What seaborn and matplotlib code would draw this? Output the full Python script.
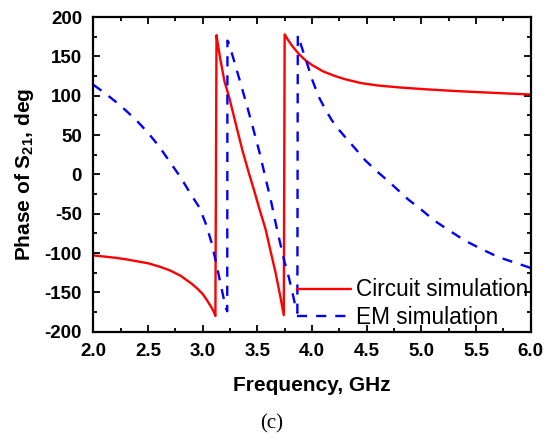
import matplotlib
matplotlib.use("Agg")
import matplotlib.pyplot as plt
import seaborn as sns
import pandas as pd
from matplotlib.ticker import MultipleLocator

# Circuit simulation (red, solid)
circ_f = [2.0, 2.1, 2.2, 2.3, 2.4, 2.5, 2.6, 2.7, 2.8, 2.85, 2.9, 2.95, 3.0, 3.04, 3.08, 3.1, 3.117,
          3.127, 3.14, 3.16, 3.2, 3.243, 3.3, 3.363, 3.42, 3.47, 3.515, 3.55, 3.576, 3.62, 3.667, 3.71, 3.742,
          3.75, 3.78, 3.82, 3.88, 3.94, 4.0, 4.1, 4.2, 4.3, 4.45, 4.6, 4.8, 5.0, 5.3, 5.6, 6.0]
circ_p = [-103, -104.5, -106, -108, -110.5, -113, -117, -122, -129, -134, -139, -145, -152, -160, -169, -174, -180,
          177, 165, 148, 118, 98, 66, 31, 3, -20, -42, -58, -70, -97, -125, -155, -179,
          178, 171, 163, 153, 145, 139, 131, 125.5, 121, 116, 113, 110.5, 108.5, 106, 104, 101.5]

# EM simulation (blue, dashed)
em_f = [2.0, 2.1, 2.2, 2.3, 2.4, 2.5, 2.6, 2.7, 2.8, 2.9, 2.97, 3.03, 3.08, 3.12, 3.17, 3.21, 3.225,
        3.227, 3.236, 3.28, 3.334, 3.4, 3.455, 3.52, 3.576, 3.63, 3.68, 3.75, 3.79, 3.83, 3.855, 3.866,
        3.87, 3.91, 3.955, 4.0, 4.06, 4.12, 4.18, 4.25, 4.33, 4.4, 4.485, 4.6, 4.7, 4.88, 5.0, 5.12,
        5.25, 5.395, 5.55, 5.7, 5.85, 6.0]
em_p = [114, 104, 93, 81, 68, 53, 36, 16, -4, -27, -42, -63, -86, -110, -143, -169, -174,
        170, 168, 148, 122, 90, 62, 28, -5, -37, -70, -112, -132, -156, -172, -176,
        177, 160, 141, 121, 99, 83, 69, 56, 43, 32, 18, 3, -9, -32, -45, -59,
        -71, -84, -95, -105, -112, -119]

circ = pd.DataFrame({"f": circ_f, "p": circ_p})
em = pd.DataFrame({"f": em_f, "p": em_p})

sns.set_style("ticks")
plt.rcParams["font.family"] = ["Liberation Sans", "DejaVu Sans"]
plt.rcParams["mathtext.fontset"] = "custom"
plt.rcParams["mathtext.rm"] = "Liberation Sans"
plt.rcParams["mathtext.bf"] = "Liberation Sans:bold"
plt.rcParams["axes.unicode_minus"] = False
plt.rcParams["text.color"] = "black"
plt.rcParams["axes.labelcolor"] = "black"
plt.rcParams["xtick.color"] = "black"
plt.rcParams["ytick.color"] = "black"

fig = plt.figure(figsize=(5.45, 4.37), dpi=100)
ax = fig.add_axes([0.171, 0.241, 0.803, 0.72])

sns.lineplot(data=circ, x="f", y="p", ax=ax, color="#ff0000", lw=1.7,
             sort=False, estimator=None, label="Circuit simulation")
sns.lineplot(data=em, x="f", y="p", ax=ax, color="#0000ff", lw=1.7,
             sort=False, estimator=None, label="EM simulation", dashes=False)
ax.lines[1].set_dashes((4.3, 3.8))

ax.set_xlim(2.0, 6.0)
ax.set_ylim(-200, 200)
ax.xaxis.set_major_locator(MultipleLocator(0.5))
ax.xaxis.set_minor_locator(MultipleLocator(0.25))
ax.yaxis.set_major_locator(MultipleLocator(50))
ax.yaxis.set_minor_locator(MultipleLocator(25))
ax.set_xticks([2.0, 2.5, 3.0, 3.5, 4.0, 4.5, 5.0, 5.5, 6.0])
ax.set_xticklabels(["2.0", "2.5", "3.0", "3.5", "4.0", "4.5", "5.0", "5.5", "6.0"])
ax.tick_params(which="both", direction="in", top=True, right=True, width=1.3,
               colors="black", labelcolor="black")
ax.tick_params(which="major", length=5, labelsize=13.5, pad=8)
ax.tick_params(which="minor", length=3)
for lab in ax.get_xticklabels() + ax.get_yticklabels():
    lab.set_fontweight("bold")
for s in ax.spines.values():
    s.set_linewidth(1.6)
    s.set_color("black")
    s.set_visible(True)

ax.set_xlabel("Frequency, GHz", fontsize=15, fontweight="bold", labelpad=12, color="black")
ax.set_ylabel(r"Phase of S$_{\mathbf{21}}$, deg", fontsize=15, fontweight="bold",
              labelpad=6, color="black")

leg = ax.legend(loc="lower right", frameon=False, fontsize=16.3, handlelength=2.35,
                handletextpad=0.25, labelspacing=0.22, borderaxespad=0.0, borderpad=0.1,
                bbox_to_anchor=(1.0, 0.0))
for t in leg.get_texts():
    t.set_color("black")

fig.text(0.499, 0.029, "(c)", ha="center", va="center", fontsize=15,
         family=["Liberation Serif", "DejaVu Serif"], color="black")

fig.savefig("out.png", dpi=100)
